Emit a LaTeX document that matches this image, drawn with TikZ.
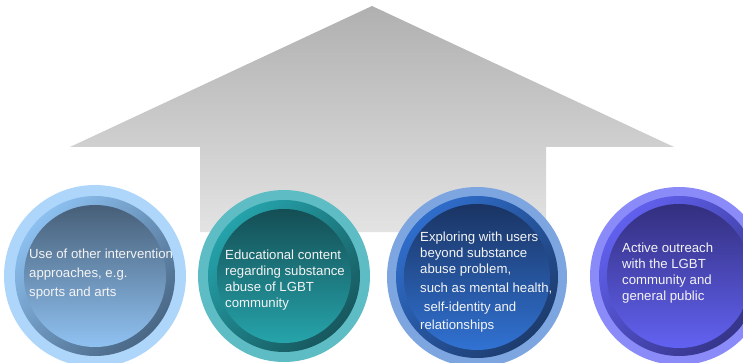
\documentclass[tikz,border=0pt]{standalone}
\usepackage{fontspec}
\setmainfont{Liberation Sans}
\usepackage{tikz}
\usetikzlibrary{positioning}
\usepackage{xcolor}
\definecolor{arrowtop}{HTML}{B0B0B0}
\definecolor{arrowbot}{HTML}{E3E3E3}
\definecolor{skyout}{HTML}{AED6FB}
\definecolor{skymidA}{HTML}{8CC0F0}
\definecolor{skymidB}{HTML}{4A6785}
\definecolor{skyinA}{HTML}{475F78}
\definecolor{skyinB}{HTML}{90C2F2}
\definecolor{tealout}{HTML}{5EBCC4}
\definecolor{tealmidA}{HTML}{25A2AA}
\definecolor{tealmidB}{HTML}{17585E}
\definecolor{tealinA}{HTML}{144E54}
\definecolor{tealinB}{HTML}{26A4AB}
\definecolor{blueout}{HTML}{7DA6E0}
\definecolor{bluemidA}{HTML}{2F6DCB}
\definecolor{bluemidB}{HTML}{1D3C6E}
\definecolor{blueinA}{HTML}{1A3463}
\definecolor{blueinB}{HTML}{3172D3}
\definecolor{violout}{HTML}{8A8AF8}
\definecolor{violmidA}{HTML}{6060EE}
\definecolor{violmidB}{HTML}{36358A}
\definecolor{violinA}{HTML}{332F7E}
\definecolor{violinB}{HTML}{6262F2}
\definecolor{captext}{HTML}{F4F4F4}

\begin{document}
\begin{tikzpicture}[x=1pt,y=-1pt,
  outer/.style={circle,inner sep=0pt,minimum size=#1},
  ring/.style 2 args={top color=#1,bottom color=#2,shading angle=45},
  disc/.style 2 args={top color=#1,bottom color=#2},
  caption/.style={anchor=base west,inner sep=0pt,align=left,text=captext,
    font=\fontsize{13.2}{16}\selectfont}]
\useasboundingbox (0,0) rectangle (743,363);
\shade[top color=arrowtop,bottom color=arrowbot]
  (372,6) -- (674,147) -- (546,147) -- (546,232) -- (200,232) -- (200,147) -- (70,147) -- cycle;
\node[outer=182,fill=skyout] (c1) at (95,276) {};
\shade[ring={skymidA}{skymidB}] (c1) circle (80);
\shade[disc={skyinA}{skyinB}] (c1) circle (71);
\node[outer=172,fill=tealout] (c2) at (284,276) {};
\shade[ring={tealmidA}{tealmidB}] (c2) circle (76);
\shade[disc={tealinA}{tealinB}] (c2) circle (67);
\node[outer=180,fill=blueout] (c3) at (477,277) {};
\shade[ring={bluemidA}{bluemidB}] (c3) circle (81);
\shade[disc={blueinA}{blueinB}] (c3) circle (73);
\node[outer=178,fill=violout] (c4) at (679,276) {};
\shade[ring={violmidA}{violmidB}] (c4) circle (80);
\shade[disc={violinA}{violinB}] (c4) circle (72);
% anchor base = baseline of the last line
\node[caption,font=\fontsize{13.2}{19}\selectfont] (t1) at (29,296)
  {Use of other intervention\\approaches, e.g.\\sports and arts};
\node[caption] (t2) at (225,307)
  {Educational content\\regarding substance\\abuse of LGBT\\community};
\node[caption] (t3) at (420,329)
  {Exploring with users\\beyond substance\\abuse problem,\\[3pt]such as mental health,\\[3pt]\hspace*{0.28em}self-identity and\\[2pt]relationships};
\node[caption] (t4) at (622,300)
  {Active outreach\\with the LGBT\\community and\\general public};
\end{tikzpicture}
\end{document}
